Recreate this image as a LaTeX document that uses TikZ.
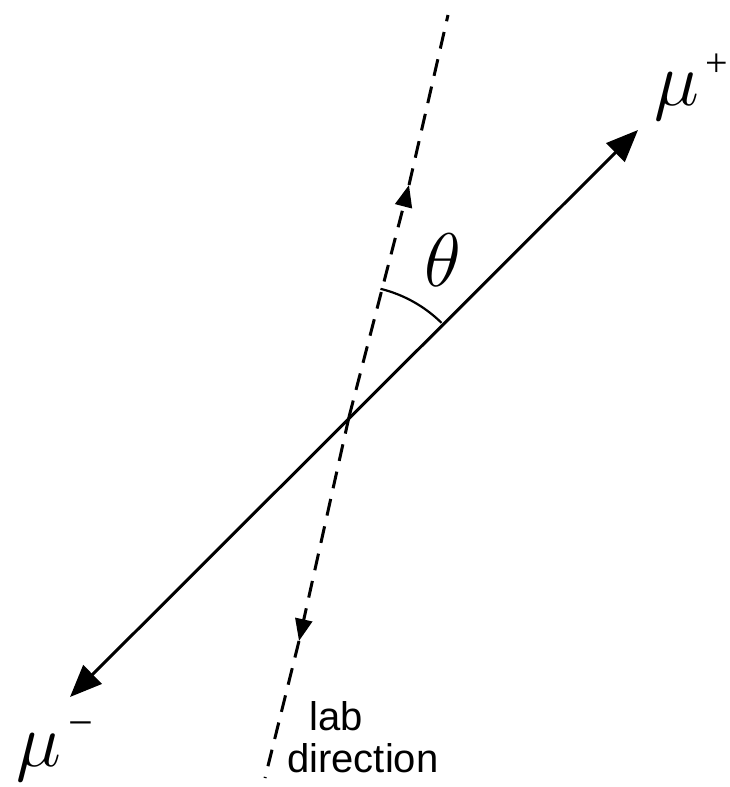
\RequirePackage{fix-cm}
\documentclass[tikz,border=0pt]{standalone}
\usepackage{fontspec}
\newfontfamily\labfont{Liberation Sans}
\newfontfamily\serfont{Liberation Serif}
\usetikzlibrary{arrows.meta}
\tikzset{
  solidline/.style={line width=3pt, line cap=butt},
  dashline/.style={line width=3pt, dash pattern=on 17pt off 11pt},
  smalltip/.style={-{Triangle[length=22pt,width=17pt]}},
  bigmath/.style={inner sep=0pt, font=\fontsize{76}{80}\selectfont},
  supsign/.style={inner sep=0pt, font=\serfont\fontsize{40}{42}\selectfont},
  labtext/.style={inner sep=0pt, anchor=base west, font=\labfont\fontsize{40}{42}\selectfont}
}
\begin{document}
\begin{tikzpicture}[x=1pt,y=-1pt]
\useasboundingbox (0,0) rectangle (730,787);
\coordinate (O) at (349,417);
\coordinate (Pp) at (638,130);
\coordinate (Pm) at (70,697);
\coordinate (T) at (448,15);
\coordinate (B) at (265,778);
\coordinate (U) at (409,185);
\coordinate (D) at (299,641);
% solid line with arrows both ends
\draw[solidline, {Triangle[length=32pt,width=26pt]}-{Triangle[length=32pt,width=26pt]}] (Pm) -- (Pp);
% dashed lab direction
\draw[dashline, smalltip] (O) -- (U);
\draw[dashline] (U) -- (T);
\draw[dashline, smalltip] (O) -- (D);
\draw[dashline] (D) -- (B);
% angle arc
\draw[line width=2.2pt] (O) ++(-76.2:132) arc[start angle=-76.2, end angle=-45.5, radius=132];
% labels
\node[bigmath] (theta) at (443,260) {$\theta$};
\node[bigmath] (mup) at (677,97) {$\mu$};
\node[supsign] (mupsup) at (717,65) {+};
\node[bigmath] (mum) at (39,758) {$\mu$};
\node[supsign, font=\serfont\fontsize{44}{46}\selectfont] (mumsup) at (81,730) {−};
\node[labtext] (lab1) at (309,730) {lab};
\node[labtext] (lab2) at (287,772) {direction};
\end{tikzpicture}
\end{document}
